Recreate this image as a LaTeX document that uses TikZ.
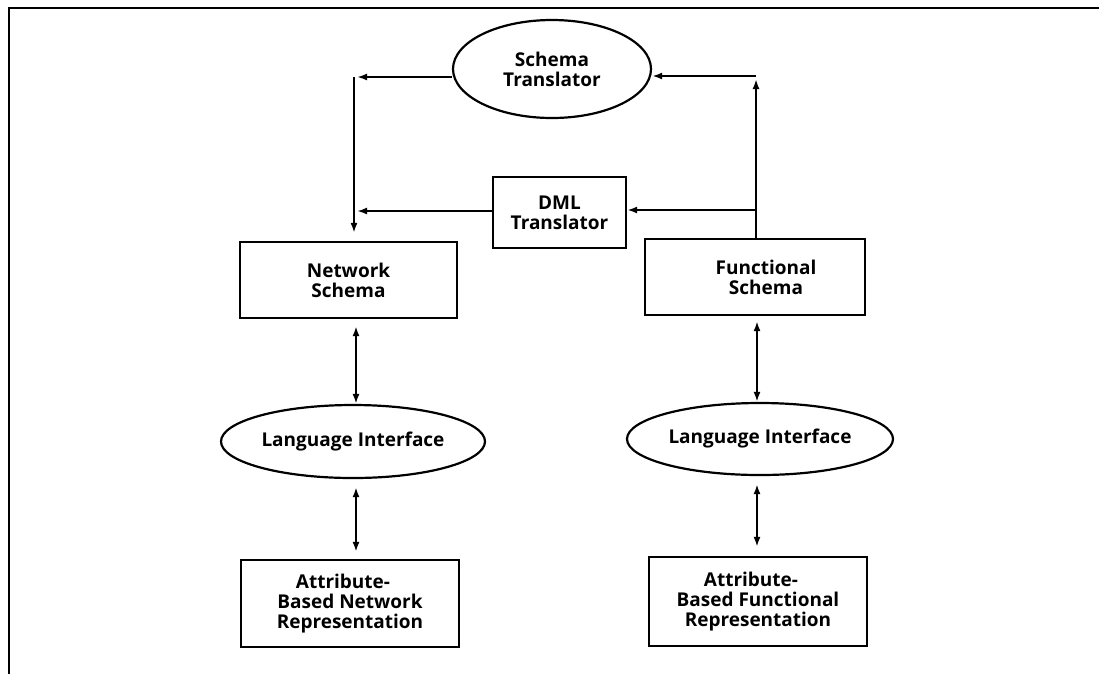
\documentclass[tikz,border=0pt]{standalone}
\usepackage{fontspec}
\setmainfont{Open Sans}
\usetikzlibrary{shapes.geometric,arrows.meta}
\begin{document}
\begin{tikzpicture}[x=1pt,y=-1pt,
  every node/.style={font=\fontsize{19}{20}\selectfont\bfseries, align=center, line width=2.2pt},
  box/.style={draw, rectangle, inner sep=0pt},
  oval/.style={draw, ellipse, inner sep=0pt},
  tip/.tip={Latex[length=10pt,width=7pt]},
  link/.style={line width=2.1pt, -tip},
  both/.style={line width=2.1pt, tip-tip},
]
\useasboundingbox (0,0) rectangle (1099,673);
% frame: top and left rules only
\draw[line width=2.6pt] (9,676) -- (9,8) -- (1102,8);

% translators
\node[oval, minimum width=198pt, minimum height=98pt] (st) at (552,69) {Schema\\Translator};
\node[box, minimum width=133pt, minimum height=71pt] (dml) at (559.5,212.5) {DML\\Translator};

% schemas
\node[box, minimum width=217pt, minimum height=76pt] (ns) at (348.5,280) {Network\\Schema};
\node[box, minimum width=220pt, minimum height=76pt] (fs) at (755,277)
  {\hspace*{22pt}Functional\\\hspace*{22pt}Schema};

% interfaces
\node[oval, minimum width=264pt, minimum height=73pt] (li1) at (353,441.5) {Language Interface};
\node[oval, minimum width=266pt, minimum height=72pt] (li2) at (760,439) {Language Interface};

% attribute-based representations
\node[box, minimum width=218pt, minimum height=87pt] (ab1) at (350,603.5)
  {Attribute-\hspace*{14pt}\\Based Network\\Representation};
\node[box, minimum width=218pt, minimum height=89pt] (ab2) at (758,601.5)
  {Attribute-\hspace*{14pt}\\Based Functional\\Representation};

% routing points
\coordinate (c1) at (354,77);
\coordinate (c2) at (756,76);
\coordinate (j1) at (354,211);
\coordinate (j2) at (756,210);
\coordinate (lx) at (356,0);
\coordinate (rx) at (757,0);

% left feed into the network schema
\draw[link, shorten >=3pt] (c1 -| st.west) -- (c1);
\draw[link, shorten >=8pt] (c1) -- (ns.north -| c1);
\draw[link, shorten >=3pt] (dml.west |- j1) -- (j1);

% right feed from the functional schema
\draw[link, shorten >=3pt] (fs.north -| c2) -- (c2);
\draw[link] (c2) -- (c2 -| st.east);
\draw[link] (j2) -- (dml.east |- j2);

% vertical two-way links
\draw[both, shorten <=7pt] (ns.south -| lx) -- (li1.north -| lx);
\draw[both, shorten <=8pt, shorten >=7pt] (li1.south -| lx) -- (ab1.north -| lx);
\draw[both, shorten <=5pt] (fs.south -| rx) -- (li2.north -| rx);
\draw[both, shorten <=8pt, shorten >=9pt] (li2.south -| rx) -- (ab2.north -| rx);
\end{tikzpicture}
\end{document}
